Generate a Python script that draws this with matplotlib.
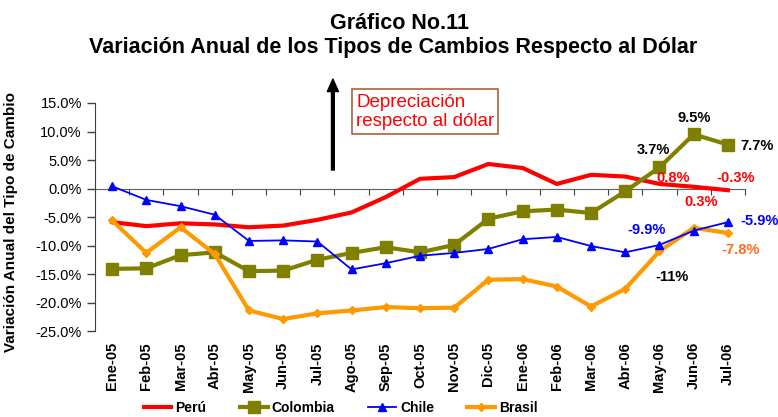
import numpy as np
import matplotlib
matplotlib.use("Agg")
import matplotlib.pyplot as plt

plt.rcParams['font.family'] = ['Liberation Sans', 'DejaVu Sans']

# --- Data (variación anual, %) ---
months = ["Ene-05", "Feb-05", "Mar-05", "Abr-05", "May-05", "Jun-05", "Jul-05",
          "Ago-05", "Sep-05", "Oct-05", "Nov-05", "Dic-05", "Ene-06", "Feb-06",
          "Mar-06", "Abr-06", "May-06", "Jun-06", "Jul-06"]
peru     = [-5.9, -6.6, -6.1, -6.3, -6.8, -6.5, -5.5, -4.2, -1.5, 1.7, 2.0, 4.3,
            3.6, 0.8, 2.4, 2.1, 0.8, 0.3, -0.3]
colombia = [-14.1, -14.0, -11.7, -11.2, -14.5, -14.4, -12.5, -11.3, -10.3, -11.2,
            -9.9, -5.3, -4.0, -3.7, -4.3, -0.5, 3.7, 9.5, 7.7]
chile    = [0.4, -2.0, -3.1, -4.6, -9.2, -9.1, -9.3, -14.2, -13.1, -11.8, -11.3,
            -10.6, -8.9, -8.5, -10.1, -11.2, -9.9, -7.4, -5.9]
brasil   = [-5.6, -11.3, -6.8, -11.5, -21.4, -22.9, -21.9, -21.4, -20.8, -21.0,
            -20.9, -16.0, -15.9, -17.2, -20.7, -17.6, -11.0, -6.9, -7.8]

x = np.arange(len(months))

fig = plt.figure(figsize=(7.78, 4.17), dpi=100)
ax = fig.add_axes([0.1221, 0.2062, 0.8355, 0.5468])

ax.plot(x, peru, color="#FF0000", lw=3, label="Perú", zorder=3)
ax.plot(x, colombia, color="#808000", lw=3, marker="s", ms=8, label="Colombia", zorder=4)
ax.plot(x, chile, color="#0000FF", lw=1.3, marker="^", ms=6, label="Chile", zorder=5)
ax.plot(x, brasil, color="#FF9900", lw=3, marker="D", ms=4, label="Brasil", zorder=4)

# --- Axes ---
ax.set_xlim(-0.5, len(months) - 0.5)
ax.set_ylim(-25, 15)
ax.set_yticks(np.arange(-25, 16, 5))
ax.set_yticklabels([f"{v:.1f}%" for v in np.arange(-25, 16, 5)], fontsize=10.5)
ax.tick_params(axis='y', direction='out', length=6, width=1, color='#404040')
ax.set_xticks(x)
ax.set_xticklabels(months, rotation=90, fontsize=10.5, fontweight='bold')
ax.tick_params(axis='x', length=0, pad=8)
for s in ['top', 'right', 'bottom']:
    ax.spines[s].set_visible(False)
ax.spines['left'].set_color('#404040')

# zero line with category tick marks
zero = ax.secondary_xaxis(0, transform=ax.transData)
zero.set_xticks(np.arange(-0.5, len(months), 1.0))
zero.tick_params(axis='x', direction='out', length=4, color='#404040', labelbottom=False)
zero.spines['bottom'].set_color('#606060')

ax.set_ylabel("Variación Anual del Tipo de Cambio", fontsize=11, fontweight='bold')
ax.yaxis.set_label_coords(-0.118, 0.48)

# --- Title ---
fig.text(0.514, 0.943, "Gráfico No.11", ha='center', va='center',
         fontsize=15.5, fontweight='bold')
fig.text(0.505, 0.885, "Variación Anual de los Tipos de Cambios Respecto al Dólar",
         ha='center', va='center', fontsize=15.5, fontweight='bold')

# --- Data labels ---
labels = [
    (colombia, 17, "9.5%", "black", 0, 16, 'center'),
    (colombia, 18, "7.7%", "black", 12, -1, 'left'),
    (colombia, 16, "3.7%", "black", -6, 17, 'center'),
    (peru, 16, "0.8%", "#FF0000", 14, 6, 'center'),
    (peru, 18, "-0.3%", "#FF0000", 8, 12, 'center'),
    (peru, 17, "0.3%", "#FF0000", 7, -15, 'center'),
    (chile, 16, "-9.9%", "#0000FF", -13, 15, 'center'),
    (chile, 18, "-5.9%", "#0000FF", 12, 1, 'left'),
    (brasil, 18, "-7.8%", "#FF6A1A", 13, -17, 'center'),
    (brasil, 16, "-11%", "black", 13, -26, 'center'),
]
for series, i, txt, c, dx, dy, ha in labels:
    ax.annotate(txt, (x[i], series[i]), xytext=(dx * 0.72, dy * 0.72),
                textcoords='offset points', ha=ha, va='center', color=c,
                fontsize=10.5, fontweight='bold', annotation_clip=False, zorder=6)

# --- Arrow and note ---
ax.annotate("", xy=(0.366, 1.105), xytext=(0.366, 0.706), xycoords='axes fraction',
            arrowprops=dict(width=2, headwidth=8, headlength=9, color='black', shrink=0),
            annotation_clip=False)
fig.text(0.4576, 0.7325, "Depreciación\nrespecto al dólar", ha='left', va='center',
         fontsize=13.5, color='#FF0000', linespacing=1.15,
         bbox=dict(boxstyle='square,pad=0.22', fc='white', ec='#B0603A', lw=1.2))

# --- Legend ---
fig.legend(loc='center', bbox_to_anchor=(0.438, 0.022), ncol=4, frameon=False,
           prop=dict(size=10, weight='bold'), handlelength=2.0,
           columnspacing=2.4, handletextpad=0.3, borderaxespad=0)

fig.savefig("out.png", dpi=100)
